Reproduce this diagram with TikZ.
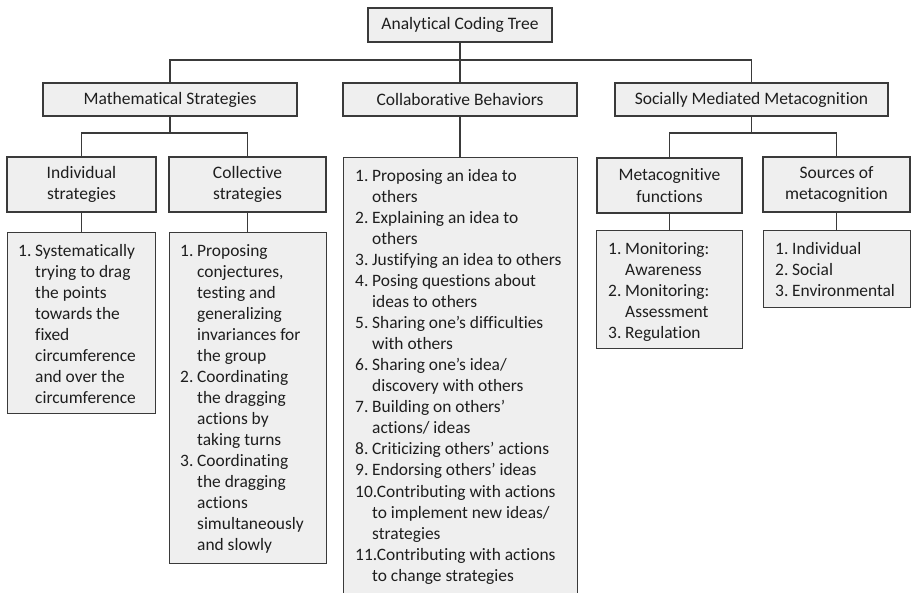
\documentclass[tikz,border=0pt]{standalone}
\usepackage{fontspec}
\setmainfont{Carlito}[Ligatures=NoCommon]
\definecolor{bordc}{HTML}{3A3A3A}
\definecolor{boxc}{HTML}{EFEFEF}
\definecolor{txtc}{HTML}{1E1E1E}
\newlength{\lind}
\setlength{\lind}{17pt}
\newcommand{\itm}[2]{\makebox[\lind][l]{#1}#2}
\newcommand{\cnt}[1]{\hspace*{\lind}#1}
\begin{document}
\begin{tikzpicture}[x=1pt,y=-1pt,
  box/.style={draw=bordc, fill=boxc, line width=1.1pt, inner sep=0pt, text=txtc,
    font=\fontsize{17.5}{21.5}\selectfont, align=center},
  listtxt/.style={anchor=north west, inner sep=0pt, text=txtc, align=left,
    font=\fontsize{17.4}{21.05}\selectfont},
  conn/.style={draw=bordc, line width=1.1pt}]
\clip (0,0) rectangle (911,593);
\fill[white] (0,0) rectangle (911,593);
% level 0
\node[box, minimum width=184pt, minimum height=34pt] (root) at (460,25) {Analytical Coding Tree};
% level 1
\node[box, minimum width=254pt, minimum height=33pt] (ms) at (170,99.5) {Mathematical Strategies};
\node[box, minimum width=234pt, minimum height=33pt] (cb) at (460,99.5) {Collaborative Behaviors};
\node[box, minimum width=273pt, minimum height=33pt] (sm) at (751.5,99.5) {Socially Mediated Metacognition};
% level 2
\node[box, minimum width=149pt, minimum height=55pt] (is) at (81.5,184.5) {Individual\\strategies};
\node[box, minimum width=157pt, minimum height=55pt] (cs) at (247.5,184.5) {Collective\\strategies};
\node[box, minimum width=145pt, minimum height=55pt] (mf) at (669.5,185.5) {Metacognitive\\functions};
\node[box, minimum width=147pt, minimum height=55pt] (so) at (836.5,184.5) {Sources of\\metacognition};
% lists
\node[box, anchor=north west, minimum width=148pt, minimum height=181pt] (isl) at (7,232) {};
\node[box, anchor=north west, minimum width=157pt, minimum height=331pt] (csl) at (169,232) {};
\node[box, anchor=north west, minimum width=234pt, minimum height=470pt] (cbl) at (343,157) {};
\node[box, anchor=north west, minimum width=146pt, minimum height=118pt] (mfl) at (596,230) {};
\node[box, anchor=north west, minimum width=147pt, minimum height=77pt] (sol) at (763,230) {};
% connectors
\coordinate (j0) at (460,60);
\coordinate (j1) at (170,133);
\coordinate (j2) at (751.5,133);
\draw[conn] (root.south) -- (cb.north);
\draw[conn] (ms.north) |- (j0) -| (sm.north);
\draw[conn] (ms.south) -- (j1);
\draw[conn] (is.north) |- (j1) -| (cs.north);
\draw[conn] (sm.south) -- (j2);
\draw[conn] (mf.north) |- (j2) -| (so.north);
\draw[conn] (is.south) -- (is.south |- isl.north);
\draw[conn] (cs.south) -- (cs.south |- csl.north);
\draw[conn] (cb.south) -- (cb.south |- cbl.north);
\draw[conn] (mf.south) -- (mf.south |- mfl.north);
\draw[conn] (so.south) -- (so.south |- sol.north);
% list texts
\node[listtxt] (islt) at ([shift={(11,12)}]isl.north west) {%
\itm{1.}{Systematically}\\ \cnt{trying to drag}\\ \cnt{the points}\\ \cnt{towards the}\\
\cnt{fixed}\\ \cnt{circumference}\\ \cnt{and over the}\\ \cnt{circumference}};
\node[listtxt] (cslt) at ([shift={(11,12)}]csl.north west) {%
\itm{1.}{Proposing}\\ \cnt{conjectures,}\\ \cnt{testing and}\\ \cnt{generalizing}\\
\cnt{invariances for}\\ \cnt{the group}\\
\itm{2.}{Coordinating}\\ \cnt{the dragging}\\ \cnt{actions by}\\ \cnt{taking turns}\\
\itm{3.}{Coordinating}\\ \cnt{the dragging}\\ \cnt{actions}\\ \cnt{simultaneously}\\ \cnt{and slowly}};
\node[listtxt] (cblt) at ([shift={(12,12)}]cbl.north west) {%
\itm{1.}{Proposing an idea to}\\ \cnt{others}\\
\itm{2.}{Explaining an idea to}\\ \cnt{others}\\
\itm{3.}{Justifying an idea to others}\\
\itm{4.}{Posing questions about}\\ \cnt{ideas to others}\\
\itm{5.}{Sharing one’s difficulties}\\ \cnt{with others}\\
\itm{6.}{Sharing one’s idea/}\\ \cnt{discovery with others}\\
\itm{7.}{Building on others’}\\ \cnt{actions/ ideas}\\
\itm{8.}{Criticizing others’ actions}\\
\itm{9.}{Endorsing others’ ideas}\\
10.Contributing with actions\\ \cnt{to implement new ideas/}\\ \cnt{strategies}\\
11.Contributing with actions\\ \cnt{to change strategies}};
\node[listtxt] (mflt) at ([shift={(12,12)}]mfl.north west) {%
\itm{1.}{Monitoring:}\\ \cnt{Awareness}\\
\itm{2.}{Monitoring:}\\ \cnt{Assessment}\\
\itm{3.}{Regulation}};
\node[listtxt] (solt) at ([shift={(12,12)}]sol.north west) {%
\itm{1.}{Individual}\\ \itm{2.}{Social}\\ \itm{3.}{Environmental}};
\end{tikzpicture}
\end{document}
